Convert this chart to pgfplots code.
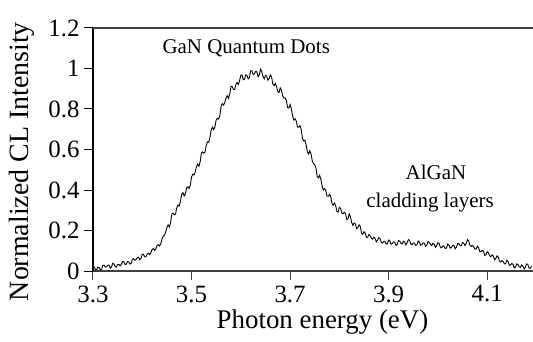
\documentclass[border=0pt]{standalone}
\usepackage{fontspec}
\setmainfont{Liberation Serif}
\usepackage{pgfplots}
\pgfplotsset{compat=1.18}
\begin{document}
\begin{tikzpicture}
\begin{axis}[
  scale only axis, width=440bp, height=243bp,
  xmin=3.3, xmax=4.193, ymin=0, ymax=1.2,
  axis x line*=bottom, axis y line*=left,
  axis line style={-},
  x axis line style={black!75, line width=1.2bp},
  y axis line style={black, line width=1.2bp},
  xtick={3.3,3.5,3.7,3.9,4.1},
  xticklabels={3.3,3.5,3.7,3.9,4.1},
  ytick={0,0.2,0.4,0.6,0.8,1,1.2},
  yticklabels={0,0.2,0.4,0.6,0.8,1,1.2},
  tick align=outside, major tick length=9bp,
  x tick style={black!75, line width=1bp},
  y tick style={black, line width=1bp},
  /pgf/number format/assume math mode=true,
  tick label style={font=\fontsize{25}{27}\selectfont},
  xticklabel style={yshift=-2bp},
  yticklabel style={xshift=-1bp},
  xlabel={Photon energy (eV)}, ylabel={Normalized CL Intensity},
  xlabel style={font=\fontsize{27}{29}\selectfont, at={(axis description cs:0.5216,-0.21)}, anchor=center},
  ylabel style={font=\fontsize{28}{30}\selectfont, at={(axis description cs:-0.161,0.45)}, anchor=center},
  clip=false,
]
\addplot[black, line width=0.9bp] coordinates {
(3.300,0.021)(3.3025,0.021)(3.305,0.006)(3.3075,0.007)(3.310,0.019)(3.3125,0.017)(3.315,0.006)(3.3175,0.009)(3.320,0.028)(3.3225,0.029)
(3.325,0.019)(3.3275,0.021)(3.330,0.029)(3.3325,0.029)(3.335,0.014)(3.3375,0.020)(3.340,0.038)(3.3425,0.035)(3.345,0.023)(3.3475,0.019)
(3.350,0.031)(3.3525,0.033)(3.355,0.025)(3.3575,0.033)(3.360,0.046)(3.3625,0.046)(3.365,0.032)(3.3675,0.034)(3.370,0.047)(3.3725,0.045)
(3.375,0.034)(3.3775,0.038)(3.380,0.058)(3.3825,0.061)(3.385,0.053)(3.3875,0.057)(3.390,0.066)(3.3925,0.068)(3.395,0.055)(3.3975,0.063)
(3.400,0.083)(3.4025,0.081)(3.405,0.071)(3.4075,0.070)(3.410,0.084)(3.4125,0.088)(3.415,0.081)(3.4175,0.091)(3.420,0.106)(3.4225,0.111)
(3.425,0.102)(3.4275,0.109)(3.430,0.127)(3.4325,0.130)(3.435,0.124)(3.4375,0.133)(3.440,0.158)(3.4425,0.172)(3.445,0.176)(3.4475,0.193)
(3.450,0.215)(3.4525,0.228)(3.455,0.217)(3.4575,0.240)(3.460,0.282)(3.4625,0.286)(3.465,0.277)(3.4675,0.281)(3.470,0.312)(3.4725,0.326)
(3.475,0.321)(3.4775,0.345)(3.480,0.378)(3.4825,0.387)(3.485,0.371)(3.4875,0.381)(3.490,0.411)(3.4925,0.416)(3.495,0.408)(3.4975,0.422)
(3.500,0.464)(3.5025,0.478)(3.505,0.474)(3.5075,0.490)(3.510,0.515)(3.5125,0.528)(3.515,0.517)(3.5175,0.540)(3.520,0.582)(3.5225,0.588)
(3.525,0.582)(3.5275,0.588)(3.530,0.622)(3.5325,0.638)(3.535,0.636)(3.5375,0.662)(3.540,0.698)(3.5425,0.710)(3.545,0.698)(3.5475,0.712)
(3.550,0.746)(3.5525,0.754)(3.555,0.750)(3.5575,0.768)(3.560,0.814)(3.5625,0.826)(3.565,0.819)(3.5675,0.832)(3.570,0.855)(3.5725,0.866)
(3.575,0.852)(3.5775,0.872)(3.580,0.912)(3.5825,0.911)(3.585,0.897)(3.5875,0.896)(3.590,0.922)(3.5925,0.931)(3.595,0.921)(3.5975,0.940)
(3.600,0.968)(3.6025,0.968)(3.605,0.944)(3.6075,0.947)(3.610,0.969)(3.6125,0.965)(3.615,0.949)(3.6175,0.955)(3.620,0.989)(3.6225,0.989)
(3.625,0.971)(3.6275,0.973)(3.630,0.985)(3.6325,0.984)(3.635,0.959)(3.6375,0.968)(3.640,0.997)(3.6425,0.985)(3.645,0.961)(3.6475,0.949)
(3.650,0.965)(3.6525,0.963)(3.655,0.942)(3.6575,0.950)(3.660,0.968)(3.6625,0.958)(3.665,0.923)(3.6675,0.915)(3.670,0.926)(3.6725,0.912)
(3.675,0.885)(3.6775,0.881)(3.680,0.904)(3.6825,0.893)(3.685,0.864)(3.6875,0.855)(3.690,0.855)(3.6925,0.843)(3.695,0.807)(3.6975,0.805)
(3.700,0.822)(3.7025,0.801)(3.705,0.767)(3.7075,0.746)(3.710,0.752)(3.7125,0.741)(3.715,0.711)(3.7175,0.710)(3.720,0.718)(3.7225,0.700)
(3.725,0.658)(3.7275,0.642)(3.730,0.646)(3.7325,0.624)(3.735,0.590)(3.7375,0.578)(3.740,0.594)(3.7425,0.578)(3.745,0.544)(3.7475,0.530)
(3.750,0.525)(3.7525,0.508)(3.755,0.467)(3.7575,0.460)(3.760,0.472)(3.7625,0.452)(3.765,0.420)(3.7675,0.400)(3.770,0.407)(3.7725,0.397)
(3.775,0.369)(3.7775,0.369)(3.780,0.378)(3.7825,0.368)(3.785,0.333)(3.7875,0.325)(3.790,0.336)(3.7925,0.322)(3.795,0.295)(3.7975,0.291)
(3.800,0.314)(3.8025,0.309)(3.805,0.286)(3.8075,0.283)(3.810,0.290)(3.8125,0.284)(3.815,0.254)(3.8175,0.258)(3.820,0.282)(3.8225,0.267)
(3.825,0.240)(3.8275,0.225)(3.830,0.237)(3.8325,0.232)(3.835,0.209)(3.8375,0.214)(3.840,0.228)(3.8425,0.220)(3.845,0.188)(3.8475,0.181)
(3.850,0.194)(3.8525,0.187)(3.855,0.166)(3.8575,0.167)(3.860,0.180)(3.8625,0.175)(3.865,0.162)(3.8675,0.157)(3.870,0.167)(3.8725,0.161)
(3.875,0.144)(3.8775,0.152)(3.880,0.165)(3.8825,0.161)(3.885,0.142)(3.8875,0.138)(3.890,0.146)(3.8925,0.144)(3.895,0.133)(3.8975,0.135)
(3.900,0.153)(3.9025,0.148)(3.905,0.132)(3.9075,0.135)(3.910,0.144)(3.9125,0.142)(3.915,0.126)(3.9175,0.132)(3.920,0.150)(3.9225,0.148)
(3.925,0.137)(3.9275,0.134)(3.930,0.147)(3.9325,0.143)(3.935,0.129)(3.9375,0.139)(3.940,0.155)(3.9425,0.151)(3.945,0.133)(3.9475,0.130)
(3.950,0.139)(3.9525,0.137)(3.955,0.126)(3.9575,0.129)(3.960,0.148)(3.9625,0.143)(3.965,0.127)(3.9675,0.130)(3.970,0.139)(3.9725,0.137)
(3.975,0.121)(3.9775,0.127)(3.980,0.145)(3.9825,0.142)(3.985,0.130)(3.9875,0.126)(3.990,0.137)(3.9925,0.132)(3.995,0.117)(3.9975,0.126)
(4.000,0.140)(4.0025,0.136)(4.005,0.118)(4.0075,0.115)(4.010,0.124)(4.0125,0.122)(4.015,0.111)(4.0175,0.114)(4.020,0.133)(4.0225,0.128)
(4.025,0.113)(4.0275,0.117)(4.030,0.127)(4.0325,0.126)(4.035,0.110)(4.0375,0.117)(4.040,0.135)(4.0425,0.135)(4.045,0.126)(4.0475,0.125)
(4.050,0.140)(4.0525,0.138)(4.055,0.125)(4.0575,0.137)(4.060,0.155)(4.0625,0.148)(4.065,0.127)(4.0675,0.121)(4.070,0.126)(4.0725,0.121)
(4.075,0.108)(4.0775,0.108)(4.080,0.123)(4.0825,0.115)(4.085,0.096)(4.0875,0.096)(4.090,0.102)(4.0925,0.097)(4.095,0.077)(4.0975,0.080)
(4.100,0.095)(4.1025,0.090)(4.105,0.076)(4.1075,0.070)(4.110,0.080)(4.1125,0.073)(4.115,0.055)(4.1175,0.062)(4.120,0.075)(4.1225,0.069)
(4.125,0.049)(4.1275,0.044)(4.130,0.051)(4.1325,0.047)(4.135,0.035)(4.1375,0.036)(4.140,0.053)(4.1425,0.046)(4.145,0.028)(4.1475,0.030)
(4.150,0.037)(4.1525,0.033)(4.155,0.015)(4.1575,0.019)(4.160,0.035)(4.1625,0.032)(4.165,0.021)(4.1675,0.018)(4.170,0.030)(4.1725,0.025)
(4.175,0.010)(4.1775,0.020)(4.180,0.035)(4.1825,0.032)(4.185,0.014)(4.1875,0.013)(4.190,0.024)
};
\draw[black!75, line width=1.2bp] (rel axis cs:0,1) -- (rel axis cs:1,1);
\node[font=\fontsize{21}{23}\selectfont] at (axis cs:3.611,1.10) {GaN Quantum Dots};
\node[font=\fontsize{21}{23}\selectfont] at (axis cs:3.996,0.489) {AlGaN};
\node[font=\fontsize{21}{23}\selectfont] at (axis cs:3.984,0.336) {cladding layers};
\end{axis}
\pgfresetboundingbox
\path (-93bp,-71bp) rectangle (440bp,271bp);
\end{tikzpicture}
\end{document}
